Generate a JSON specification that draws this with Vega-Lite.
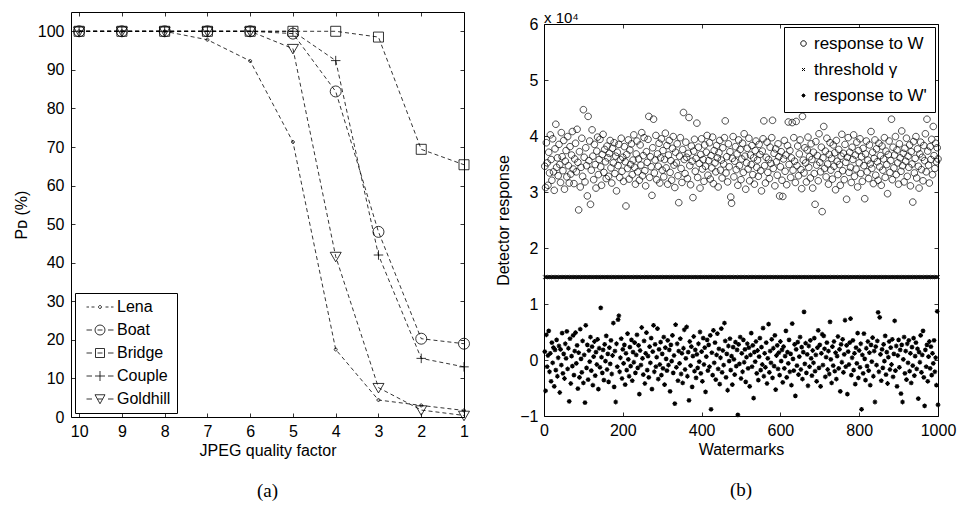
{
"$schema": "https://vega.github.io/schema/vega-lite/v6.json",
"background": "white",
"padding": {"left": 12, "top": 10, "right": 2, "bottom": 2},
"spacing": 17,
"align": "none",
"resolve": {"scale": {"shape": "independent"}, "legend": {"shape": "independent"}},
"config": {
  "font": "Liberation Sans",
  "view": {"stroke": "black", "strokeWidth": 1},
  "axis": {"grid": false, "domain": false, "ticks": true, "tickColor": "black", "tickSize": -4, "tickWidth": 0.8, "labelPadding": 10, "labelFontSize": 16, "labelColor": "black", "labelFlush": false, "labelOverlap": false, "titleFontSize": 16, "titleFontWeight": "normal", "titleColor": "black"},
  "legend": {"labelFontSize": 16, "labelColor": "black", "strokeColor": "black", "fillColor": "white"},
  "title": {"orient": "bottom", "font": "Liberation Serif", "fontSize": 19, "fontWeight": "normal", "color": "black", "offset": 24}
},
"datasets": {
"pd": [
{"q":10,"s":"Lena","v":100},{"q":9,"s":"Lena","v":100},{"q":8,"s":"Lena","v":100},{"q":7,"s":"Lena","v":97.8},{"q":6,"s":"Lena","v":92.3},{"q":5,"s":"Lena","v":71.3},{"q":4,"s":"Lena","v":17.5},{"q":3,"s":"Lena","v":4.4},{"q":2,"s":"Lena","v":3.0},{"q":1,"s":"Lena","v":1.7},
{"q":10,"s":"Boat","v":100},{"q":9,"s":"Boat","v":100},{"q":8,"s":"Boat","v":100},{"q":7,"s":"Boat","v":100},{"q":6,"s":"Boat","v":100},{"q":5,"s":"Boat","v":99.4},{"q":4,"s":"Boat","v":84.4},{"q":3,"s":"Boat","v":48},{"q":2,"s":"Boat","v":20.3},{"q":1,"s":"Boat","v":19},
{"q":10,"s":"Bridge","v":100},{"q":9,"s":"Bridge","v":100},{"q":8,"s":"Bridge","v":100},{"q":7,"s":"Bridge","v":100},{"q":6,"s":"Bridge","v":100},{"q":5,"s":"Bridge","v":100},{"q":4,"s":"Bridge","v":100},{"q":3,"s":"Bridge","v":98.5},{"q":2,"s":"Bridge","v":69.4},{"q":1,"s":"Bridge","v":65.4},
{"q":10,"s":"Couple","v":100},{"q":9,"s":"Couple","v":100},{"q":8,"s":"Couple","v":100},{"q":7,"s":"Couple","v":100},{"q":6,"s":"Couple","v":100},{"q":5,"s":"Couple","v":100},{"q":4,"s":"Couple","v":92.4},{"q":3,"s":"Couple","v":42},{"q":2,"s":"Couple","v":15.2},{"q":1,"s":"Couple","v":13},
{"q":10,"s":"Goldhill","v":100},{"q":9,"s":"Goldhill","v":100},{"q":8,"s":"Goldhill","v":100},{"q":7,"s":"Goldhill","v":100},{"q":6,"s":"Goldhill","v":100},{"q":5,"s":"Goldhill","v":95.5},{"q":4,"s":"Goldhill","v":41.6},{"q":3,"s":"Goldhill","v":7.6},{"q":2,"s":"Goldhill","v":1.8},{"q":1,"s":"Goldhill","v":0.4}
],
"wm": [
{"x":2,"w":3.46,"p":0.15},{"x":4,"w":3.08,"p":-0.55},{"x":6,"w":3.88,"p":0.45},{"x":8,"w":3.52,"p":-0.12},{"x":10,"w":3.12,"p":0.08},{"x":12,"w":3.71,"p":0.52},{"x":14,"w":3.34,"p":-0.21},{"x":16,"w":4.02,"p":0.12},{"x":18,"w":3.58,"p":-0.38},{"x":20,"w":3.21,"p":0.31},
{"x":22,"w":3.95,"p":-0.05},{"x":24,"w":3.36,"p":0.22},{"x":26,"w":3.03,"p":-0.47},{"x":28,"w":3.77,"p":0.18},{"x":30,"w":4.21,"p":-0.18},{"x":32,"w":3.44,"p":0.36},{"x":34,"w":3.61,"p":-0.29},{"x":36,"w":3.29,"p":0.04},{"x":38,"w":3.85,"p":0.25},{"x":40,"w":3.49,"p":-0.58},
{"x":42,"w":3.17,"p":0.19},{"x":44,"w":4.06,"p":-0.09},{"x":46,"w":3.63,"p":0.48},{"x":48,"w":3.38,"p":-0.24},{"x":50,"w":3.92,"p":0.11},{"x":52,"w":3.05,"p":-0.33},{"x":54,"w":3.55,"p":0.29},{"x":56,"w":3.74,"p":0.03},{"x":58,"w":3.27,"p":0.51},{"x":60,"w":3.99,"p":-0.16},
{"x":62,"w":3.47,"p":0.21},{"x":64,"w":3.16,"p":-0.74},{"x":66,"w":3.81,"p":0.38},{"x":68,"w":3.32,"p":-0.42},{"x":70,"w":3.66,"p":0.07},{"x":72,"w":4.08,"p":-0.11},{"x":74,"w":3.41,"p":0.44},{"x":76,"w":3.15,"p":-0.27},{"x":78,"w":3.59,"p":0.16},{"x":80,"w":3.87,"p":0.49},
{"x":82,"w":3.36,"p":-0.06},{"x":84,"w":4.12,"p":0.26},{"x":86,"w":3.53,"p":-0.51},{"x":88,"w":2.68,"p":0.13},{"x":90,"w":3.72,"p":-0.31},{"x":92,"w":3.09,"p":0.55},{"x":94,"w":3.44,"p":0.02},{"x":96,"w":3.96,"p":-0.22},{"x":98,"w":3.28,"p":0.34},{"x":100,"w":4.47,"p":-0.41},
{"x":102,"w":3.62,"p":0.09},{"x":104,"w":3.18,"p":-0.76},{"x":106,"w":3.79,"p":0.62},{"x":108,"w":3.47,"p":-0.14},{"x":110,"w":2.93,"p":0.27},{"x":112,"w":4.35,"p":-0.35},{"x":114,"w":3.56,"p":0.17},{"x":116,"w":3.91,"p":-0.03},{"x":118,"w":2.78,"p":0.41},{"x":120,"w":3.39,"p":-0.19},
{"x":122,"w":4.11,"p":0.24},{"x":124,"w":3.64,"p":-0.45},{"x":126,"w":3.22,"p":0.06},{"x":128,"w":3.85,"p":0.33},{"x":130,"w":3.49,"p":-0.28},{"x":132,"w":3.07,"p":0.14},{"x":134,"w":3.73,"p":-0.08},{"x":136,"w":3.98,"p":0.37},{"x":138,"w":3.31,"p":-0.52},{"x":140,"w":3.58,"p":0.21},
{"x":142,"w":3.94,"p":-0.13},{"x":144,"w":3.45,"p":0.93},{"x":146,"w":3.12,"p":0.05},{"x":148,"w":3.67,"p":-0.23},{"x":150,"w":4.03,"p":0.18},{"x":152,"w":3.35,"p":-0.36},{"x":154,"w":3.76,"p":0.28},{"x":156,"w":3.54,"p":-0.02},{"x":158,"w":3.24,"p":0.43},{"x":160,"w":3.82,"p":-0.17},
{"x":162,"w":3.61,"p":0.11},{"x":164,"w":3.28,"p":-0.39},{"x":166,"w":3.69,"p":0.22},{"x":168,"w":3.92,"p":-0.07},{"x":170,"w":3.43,"p":0.35},{"x":172,"w":3.16,"p":-0.25},{"x":174,"w":3.78,"p":0.08},{"x":176,"w":3.52,"p":0.66},{"x":178,"w":3.88,"p":-0.48},{"x":180,"w":3.33,"p":0.16},
{"x":182,"w":3.64,"p":-0.75},{"x":184,"w":3.02,"p":0.29},{"x":186,"w":3.71,"p":-0.12},{"x":188,"w":3.47,"p":0.72},{"x":190,"w":3.85,"p":0.79},{"x":192,"w":3.26,"p":-0.21},{"x":194,"w":3.58,"p":0.04},{"x":196,"w":3.96,"p":0.38},{"x":198,"w":3.37,"p":-0.33},{"x":200,"w":3.62,"p":0.19},
{"x":202,"w":3.19,"p":-0.06},{"x":204,"w":3.81,"p":0.27},{"x":206,"w":3.54,"p":-0.44},{"x":208,"w":2.75,"p":0.12},{"x":210,"w":3.67,"p":-0.18},{"x":212,"w":3.42,"p":0.47},{"x":214,"w":3.93,"p":0.01},{"x":216,"w":3.23,"p":-0.29},{"x":218,"w":3.75,"p":0.23},{"x":220,"w":3.49,"p":-0.11},
{"x":222,"w":3.86,"p":0.36},{"x":224,"w":3.31,"p":-0.37},{"x":226,"w":3.57,"p":0.14},{"x":228,"w":4.02,"p":-0.04},{"x":230,"w":3.44,"p":0.31},{"x":232,"w":3.14,"p":-0.23},{"x":234,"w":3.68,"p":0.09},{"x":236,"w":3.91,"p":0.45},{"x":238,"w":3.36,"p":-0.14},{"x":240,"w":3.59,"p":0.26},
{"x":242,"w":3.21,"p":-0.61},{"x":244,"w":3.84,"p":0.17},{"x":246,"w":3.48,"p":-0.09},{"x":248,"w":4.06,"p":0.58},{"x":250,"w":3.29,"p":0.03},{"x":252,"w":3.65,"p":-0.26},{"x":254,"w":3.97,"p":0.34},{"x":256,"w":3.38,"p":-0.42},{"x":258,"w":3.11,"p":0.12},{"x":260,"w":3.72,"p":0.49},
{"x":262,"w":3.53,"p":-0.18},{"x":264,"w":3.94,"p":0.07},{"x":266,"w":4.35,"p":-0.31},{"x":268,"w":3.26,"p":0.24},{"x":270,"w":3.63,"p":-0.05},{"x":272,"w":3.45,"p":0.39},{"x":274,"w":2.94,"p":-0.52},{"x":276,"w":3.79,"p":0.15},{"x":278,"w":4.3,"p":0.62},{"x":280,"w":3.34,"p":-0.21},
{"x":282,"w":3.57,"p":0.28},{"x":284,"w":4.01,"p":-0.12},{"x":286,"w":3.22,"p":0.05},{"x":288,"w":3.68,"p":0.56},{"x":290,"w":3.46,"p":-0.34},{"x":292,"w":3.87,"p":0.19},{"x":294,"w":3.16,"p":-0.08},{"x":296,"w":3.61,"p":0.32},{"x":298,"w":3.95,"p":-0.27},{"x":300,"w":3.39,"p":0.11},
{"x":302,"w":3.74,"p":-0.15},{"x":304,"w":3.27,"p":0.41},{"x":306,"w":3.58,"p":-0.44},{"x":308,"w":4.05,"p":0.22},{"x":310,"w":3.43,"p":0.02},{"x":312,"w":3.83,"p":-0.19},{"x":314,"w":3.14,"p":0.35},{"x":316,"w":3.66,"p":-0.09},{"x":318,"w":3.92,"p":0.18},{"x":320,"w":3.35,"p":-0.56},
{"x":322,"w":3.56,"p":0.27},{"x":324,"w":3.21,"p":-0.02},{"x":326,"w":3.78,"p":0.44},{"x":328,"w":3.99,"p":-0.23},{"x":330,"w":3.48,"p":0.08},{"x":332,"w":3.08,"p":-0.78},{"x":334,"w":3.71,"p":0.63},{"x":336,"w":3.52,"p":-0.13},{"x":338,"w":3.86,"p":0.29},{"x":340,"w":3.29,"p":-0.37},
{"x":342,"w":2.81,"p":0.16},{"x":344,"w":3.64,"p":-0.06},{"x":346,"w":3.97,"p":0.38},{"x":348,"w":3.42,"p":-0.25},{"x":350,"w":3.17,"p":0.12},{"x":352,"w":3.76,"p":-0.41},{"x":354,"w":4.42,"p":0.21},{"x":356,"w":3.58,"p":0.54},{"x":358,"w":3.33,"p":-0.17},{"x":360,"w":3.89,"p":0.03},
{"x":362,"w":3.62,"p":0.59},{"x":364,"w":3.24,"p":-0.29},{"x":366,"w":3.69,"p":0.14},{"x":368,"w":4.33,"p":-0.72},{"x":370,"w":3.47,"p":0.33},{"x":372,"w":3.13,"p":-0.1},{"x":374,"w":3.82,"p":0.24},{"x":376,"w":3.55,"p":-0.48},{"x":378,"w":2.9,"p":0.07},{"x":380,"w":3.73,"p":0.42},
{"x":382,"w":3.94,"p":-0.2},{"x":384,"w":3.37,"p":0.18},{"x":386,"w":3.6,"p":-0.32},{"x":388,"w":4.23,"p":0.1},{"x":390,"w":3.26,"p":-0.14},{"x":392,"w":3.8,"p":0.29},{"x":394,"w":3.51,"p":-0.03},{"x":396,"w":3.07,"p":0.5},{"x":398,"w":3.67,"p":-0.24},{"x":400,"w":3.95,"p":0.15},
{"x":402,"w":3.41,"p":-0.38},{"x":404,"w":3.58,"p":0.39},{"x":406,"w":3.19,"p":-0.08},{"x":408,"w":3.84,"p":0.22},{"x":410,"w":3.46,"p":-0.57},{"x":412,"w":3.71,"p":0.06},{"x":414,"w":4.01,"p":0.36},{"x":416,"w":3.3,"p":-0.19},{"x":418,"w":3.56,"p":0.27},{"x":420,"w":3.88,"p":-0.12},
{"x":422,"w":3.23,"p":0.44},{"x":424,"w":3.65,"p":-0.88},{"x":426,"w":3.43,"p":0.13},{"x":428,"w":3.98,"p":-0.27},{"x":430,"w":3.15,"p":0.53},{"x":432,"w":3.74,"p":-0.05},{"x":434,"w":3.52,"p":0.31},{"x":436,"w":3.36,"p":-0.35},{"x":438,"w":3.83,"p":0.09},{"x":440,"w":3.61,"p":0.47},
{"x":442,"w":3.09,"p":-0.16},{"x":444,"w":3.7,"p":0.2},{"x":446,"w":3.92,"p":-0.43},{"x":448,"w":3.39,"p":0.04},{"x":450,"w":3.57,"p":0.56},{"x":452,"w":3.25,"p":-0.22},{"x":454,"w":3.79,"p":0.17},{"x":456,"w":3.5,"p":-0.09},{"x":458,"w":3.97,"p":0.66},{"x":460,"w":4.27,"p":0.34},
{"x":462,"w":3.34,"p":-0.31},{"x":464,"w":3.63,"p":0.11},{"x":466,"w":3.18,"p":-0.54},{"x":468,"w":3.86,"p":0.25},{"x":470,"w":3.45,"p":-0.02},{"x":472,"w":3.72,"p":0.38},{"x":474,"w":2.91,"p":-0.18},{"x":476,"w":2.8,"p":0.07},{"x":478,"w":3.6,"p":-0.44},{"x":480,"w":3.99,"p":0.23},
{"x":482,"w":3.27,"p":0.01},{"x":484,"w":3.55,"p":-0.26},{"x":486,"w":3.81,"p":0.32},{"x":488,"w":3.4,"p":-0.11},{"x":490,"w":3.68,"p":0.18},{"x":492,"w":3.12,"p":-0.98},{"x":494,"w":3.93,"p":0.28},{"x":496,"w":3.47,"p":-0.07},{"x":498,"w":3.76,"p":0.41},{"x":500,"w":3.22,"p":-0.33},
{"x":502,"w":3.59,"p":0.12},{"x":504,"w":3.87,"p":-0.21},{"x":506,"w":3.35,"p":0.36},{"x":508,"w":4.04,"p":-0.04},{"x":510,"w":3.64,"p":0.19},{"x":512,"w":3.05,"p":-0.39},{"x":514,"w":3.52,"p":0.05},{"x":516,"w":3.78,"p":0.29},{"x":518,"w":3.41,"p":-0.15},{"x":520,"w":3.96,"p":0.22},
{"x":522,"w":3.2,"p":-0.47},{"x":524,"w":3.66,"p":0.09},{"x":526,"w":3.49,"p":0.48},{"x":528,"w":3.83,"p":-0.12},{"x":530,"w":3.31,"p":0.26},{"x":532,"w":3.61,"p":-0.68},{"x":534,"w":3.14,"p":0.14},{"x":536,"w":3.74,"p":-0.03},{"x":538,"w":3.91,"p":0.33},{"x":540,"w":3.44,"p":-0.24},
{"x":542,"w":3.57,"p":0.17},{"x":544,"w":3.28,"p":-0.36},{"x":546,"w":3.85,"p":0.06},{"x":548,"w":3.67,"p":0.39},{"x":550,"w":3.38,"p":-0.18},{"x":552,"w":3.02,"p":0.23},{"x":554,"w":3.73,"p":-0.08},{"x":556,"w":3.95,"p":0.57},{"x":558,"w":4.27,"p":-0.29},{"x":560,"w":3.47,"p":0.12},
{"x":562,"w":3.16,"p":-0.13},{"x":564,"w":3.62,"p":0.31},{"x":566,"w":3.89,"p":-0.42},{"x":568,"w":3.35,"p":0.03},{"x":570,"w":3.58,"p":0.64},{"x":572,"w":3.24,"p":-0.22},{"x":574,"w":3.8,"p":0.16},{"x":576,"w":3.51,"p":-0.05},{"x":578,"w":3.97,"p":0.37},{"x":580,"w":4.28,"p":-0.32},
{"x":582,"w":3.42,"p":0.21},{"x":584,"w":3.69,"p":-0.11},{"x":586,"w":3.11,"p":0.44},{"x":588,"w":3.77,"p":-0.53},{"x":590,"w":3.54,"p":0.08},{"x":592,"w":3.3,"p":0.26},{"x":594,"w":3.86,"p":-0.16},{"x":596,"w":3.63,"p":0.13},{"x":598,"w":2.93,"p":-0.27},{"x":600,"w":3.45,"p":0.33},
{"x":602,"w":3.72,"p":-0.02},{"x":604,"w":3.21,"p":0.18},{"x":606,"w":2.92,"p":-0.4},{"x":608,"w":3.59,"p":0.24},{"x":610,"w":3.92,"p":-0.15},{"x":612,"w":3.37,"p":0.07},{"x":614,"w":3.66,"p":0.52},{"x":616,"w":3.13,"p":-0.31},{"x":618,"w":3.83,"p":0.14},{"x":620,"w":4.25,"p":-0.06},
{"x":622,"w":3.49,"p":0.36},{"x":624,"w":3.74,"p":-0.21},{"x":626,"w":3.26,"p":0.11},{"x":628,"w":3.61,"p":-0.45},{"x":630,"w":4.24,"p":0.65},{"x":632,"w":3.39,"p":0.02},{"x":634,"w":3.97,"p":-0.19},{"x":636,"w":3.55,"p":0.28},{"x":638,"w":3.17,"p":-0.64},{"x":640,"w":4.26,"p":0.19},
{"x":642,"w":3.47,"p":-0.1},{"x":644,"w":3.82,"p":0.32},{"x":646,"w":3.29,"p":-0.26},{"x":648,"w":3.68,"p":0.06},{"x":650,"w":3.93,"p":0.41},{"x":652,"w":3.4,"p":-0.17},{"x":654,"w":3.06,"p":0.23},{"x":656,"w":4.35,"p":-0.34},{"x":658,"w":3.57,"p":0.14},{"x":660,"w":3.34,"p":0.86},
{"x":662,"w":3.79,"p":-0.07},{"x":664,"w":3.52,"p":0.3},{"x":666,"w":3.18,"p":-0.23},{"x":668,"w":3.75,"p":0.1},{"x":670,"w":3.98,"p":-0.46},{"x":672,"w":3.44,"p":0.25},{"x":674,"w":3.63,"p":-0.12},{"x":676,"w":3.25,"p":0.35},{"x":678,"w":3.86,"p":0.03},{"x":680,"w":3.58,"p":-0.28},
{"x":682,"w":3.07,"p":0.17},{"x":684,"w":3.71,"p":-0.05},{"x":686,"w":3.33,"p":0.39},{"x":688,"w":2.78,"p":-0.2},{"x":690,"w":3.9,"p":0.09},{"x":692,"w":3.48,"p":-0.38},{"x":694,"w":3.65,"p":0.22},{"x":696,"w":3.2,"p":0.53},{"x":698,"w":4.04,"p":-0.14},{"x":700,"w":3.53,"p":0.27},
{"x":702,"w":3.36,"p":-0.47},{"x":704,"w":3.8,"p":0.12},{"x":706,"w":2.65,"p":0.46},{"x":708,"w":3.61,"p":-0.09},{"x":710,"w":4.17,"p":0.43},{"x":712,"w":3.42,"p":0.2},{"x":714,"w":3.73,"p":-0.3},{"x":716,"w":3.27,"p":0.05},{"x":718,"w":3.96,"p":0.31},{"x":720,"w":3.5,"p":-0.17},
{"x":722,"w":3.14,"p":0.16},{"x":724,"w":3.67,"p":-0.25},{"x":726,"w":3.88,"p":0.68},{"x":728,"w":3.39,"p":0.01},{"x":730,"w":3.6,"p":-0.41},{"x":732,"w":3.23,"p":0.24},{"x":734,"w":3.84,"p":-0.1},{"x":736,"w":3.46,"p":0.33},{"x":738,"w":3.7,"p":-0.2},{"x":740,"w":3.04,"p":0.13},
{"x":742,"w":3.92,"p":-0.34},{"x":744,"w":3.55,"p":0.07},{"x":746,"w":3.31,"p":0.42},{"x":748,"w":3.76,"p":-0.15},{"x":750,"w":3.49,"p":0.19},{"x":752,"w":3.12,"p":-0.56},{"x":754,"w":3.64,"p":0.28},{"x":756,"w":4.03,"p":-0.04},{"x":758,"w":3.38,"p":0.37},{"x":760,"w":3.69,"p":-0.22},
{"x":762,"w":3.22,"p":0.1},{"x":764,"w":3.85,"p":0.71},{"x":766,"w":3.53,"p":-0.12},{"x":768,"w":2.87,"p":0.26},{"x":770,"w":3.62,"p":-0.61},{"x":772,"w":3.97,"p":0.15},{"x":774,"w":3.35,"p":-0.08},{"x":776,"w":3.71,"p":0.31},{"x":778,"w":3.44,"p":0.74},{"x":780,"w":3.17,"p":-0.27},
{"x":782,"w":3.8,"p":0.04},{"x":784,"w":3.58,"p":0.35},{"x":786,"w":4.02,"p":-0.18},{"x":788,"w":3.28,"p":0.12},{"x":790,"w":3.66,"p":-0.43},{"x":792,"w":3.41,"p":0.22},{"x":794,"w":3.89,"p":-0.06},{"x":796,"w":3.09,"p":0.48},{"x":798,"w":3.74,"p":-0.32},{"x":800,"w":3.52,"p":0.17},
{"x":802,"w":3.95,"p":-0.13},{"x":804,"w":3.33,"p":0.29},{"x":806,"w":3.63,"p":-0.88},{"x":808,"w":3.19,"p":0.09},{"x":810,"w":3.78,"p":-0.24},{"x":812,"w":3.47,"p":0.47},{"x":814,"w":2.88,"p":0.02},{"x":816,"w":3.68,"p":-0.36},{"x":818,"w":3.91,"p":0.21},{"x":820,"w":3.36,"p":-0.11},
{"x":822,"w":3.57,"p":0.33},{"x":824,"w":3.24,"p":-0.19},{"x":826,"w":3.84,"p":0.13},{"x":828,"w":3.5,"p":-0.45},{"x":830,"w":4.08,"p":0.27},{"x":832,"w":3.42,"p":-0.03},{"x":834,"w":3.71,"p":0.4},{"x":836,"w":3.15,"p":-0.29},{"x":838,"w":3.6,"p":0.16},{"x":840,"w":3.93,"p":-0.75},
{"x":842,"w":3.3,"p":0.24},{"x":844,"w":3.77,"p":-0.09},{"x":846,"w":3.54,"p":0.34},{"x":848,"w":3.21,"p":0.85},{"x":850,"w":3.87,"p":-0.21},{"x":852,"w":3.45,"p":0.76},{"x":854,"w":3.65,"p":0.1},{"x":856,"w":3.12,"p":-0.37},{"x":858,"w":3.82,"p":0.19},{"x":860,"w":3.39,"p":-0.14},
{"x":862,"w":3.59,"p":0.28},{"x":864,"w":3.97,"p":-0.02},{"x":866,"w":3.26,"p":0.43},{"x":868,"w":3.73,"p":-0.26},{"x":870,"w":3.49,"p":0.14},{"x":872,"w":2.97,"p":-0.42},{"x":874,"w":3.67,"p":0.05},{"x":876,"w":3.91,"p":0.33},{"x":878,"w":3.35,"p":-0.17},{"x":880,"w":3.56,"p":0.22},
{"x":882,"w":4.3,"p":-0.08},{"x":884,"w":3.22,"p":0.37},{"x":886,"w":3.8,"p":-0.3},{"x":888,"w":3.43,"p":0.11},{"x":890,"w":3.66,"p":0.7},{"x":892,"w":3.99,"p":-0.19},{"x":894,"w":3.31,"p":0.25},{"x":896,"w":3.75,"p":-0.47},{"x":898,"w":3.52,"p":0.08},{"x":900,"w":3.14,"p":0.36},
{"x":902,"w":3.86,"p":-0.13},{"x":904,"w":3.61,"p":0.18},{"x":906,"w":3.37,"p":-0.6},{"x":908,"w":4.09,"p":0.27},{"x":910,"w":3.47,"p":-0.75},{"x":912,"w":3.69,"p":0.01},{"x":914,"w":3.18,"p":0.41},{"x":916,"w":3.78,"p":-0.24},{"x":918,"w":3.55,"p":0.16},{"x":920,"w":3.96,"p":-0.35},
{"x":922,"w":3.28,"p":0.29},{"x":924,"w":3.64,"p":-0.05},{"x":926,"w":3.44,"p":0.35},{"x":928,"w":3.84,"p":-0.2},{"x":930,"w":3.11,"p":0.12},{"x":932,"w":3.72,"p":-0.41},{"x":934,"w":3.5,"p":0.23},{"x":936,"w":2.82,"p":-0.1},{"x":938,"w":3.9,"p":0.39},{"x":940,"w":3.34,"p":-0.28},
{"x":942,"w":3.6,"p":0.07},{"x":944,"w":3.99,"p":0.31},{"x":946,"w":3.25,"p":-0.16},{"x":948,"w":3.77,"p":0.2},{"x":950,"w":3.46,"p":-0.69},{"x":952,"w":3.07,"p":0.14},{"x":954,"w":3.68,"p":-0.04},{"x":956,"w":3.89,"p":0.44},{"x":958,"w":3.4,"p":-0.22},{"x":960,"w":3.62,"p":0.09},
{"x":962,"w":3.2,"p":0.52},{"x":964,"w":3.83,"p":-0.31},{"x":966,"w":3.56,"p":-0.82},{"x":968,"w":4.04,"p":0.18},{"x":970,"w":3.36,"p":-0.12},{"x":972,"w":4.3,"p":0.27},{"x":974,"w":3.73,"p":-0.38},{"x":976,"w":3.48,"p":0.06},{"x":978,"w":3.16,"p":0.33},{"x":980,"w":3.81,"p":-0.15},
{"x":982,"w":3.58,"p":0.24},{"x":984,"w":3.94,"p":-0.27},{"x":986,"w":3.31,"p":0.12},{"x":988,"w":4.17,"p":-0.06},{"x":990,"w":3.65,"p":0.35},{"x":992,"w":3.42,"p":-0.21},{"x":994,"w":3.87,"p":0.04},{"x":996,"w":3.54,"p":-0.45},{"x":998,"w":3.79,"p":0.87},{"x":1000,"w":3.59,"p":-0.8}
],
"blank": [{"k": 0}]
},
"hconcat": [
{
  "width": 393, "height": 405,
  "title": {"text": "(a)"},
  "data": {"name": "pd"},
  "resolve": {"axis": {"x": "independent", "y": "independent"}, "scale": {"shape": "independent"}},
  "layer": [
    {"mark": {"type": "line", "color": "black", "strokeWidth": 0.8, "strokeDash": [4, 3]},
     "encoding": {
       "x": {"field": "q", "type": "quantitative", "scale": {"domain": [1, 10.19], "reverse": true, "nice": false, "zero": false}, "axis": {"values": [1,2,3,4,5,6,7,8,9,10], "format": "d", "title": "JPEG quality factor", "titlePadding": 3}},
       "y": {"field": "v", "type": "quantitative", "scale": {"domain": [0, 105], "nice": false}, "axis": {"values": [0,10,20,30,40,50,60,70,80,90,100], "title": "Pᴅ (%)", "titlePadding": 8, "labelPadding": 11}},
       "detail": {"field": "s"}
     }},
    {"mark": {"type": "point", "filled": false, "color": "black", "strokeWidth": 0.8, "size": 100, "opacity": 1},
     "encoding": {
       "x": {"field": "q", "type": "quantitative", "axis": {"orient": "top", "labels": false, "title": null, "values": [1,2,3,4,5,6,7,8,9,10]}},
       "y": {"field": "v", "type": "quantitative", "axis": {"orient": "right", "labels": false, "title": null, "values": [0,10,20,30,40,50,60,70,80,90,100]}},
       "shape": {"field": "s", "type": "nominal", "legend": null,
         "scale": {"domain": ["Lena","Boat","Bridge","Couple","Goldhill"],
           "range": [
             "M0.3,0A0.3,0.3 0 1,1 -0.3,0A0.3,0.3 0 1,1 0.3,0Z",
             "M1.1,0A1.1,1.1 0 1,1 -1.1,0A1.1,1.1 0 1,1 1.1,0Z",
             "M-1,-1H1V1H-1Z",
             "M-0.95,0H0.95M0,-0.95V0.95",
             "M-1.1,-0.85L1.1,-0.85L0,1.05Z"
           ]}}
     }},
    {"mark": {"type": "point", "filled": false, "color": "black", "size": 100, "opacity": 0},
     "encoding": {
       "x": {"field": "q", "type": "quantitative", "axis": null},
       "y": {"field": "v", "type": "quantitative", "axis": null},
       "shape": {"field": "s", "type": "nominal",
         "scale": {"domain": ["Lena","Boat","Bridge","Couple","Goldhill"],
           "range": [
             "M-2.7,0H-2.2M-1.7,0H-1.1M1.1,0H1.7M2.2,0H2.7M0.3,0A0.3,0.3 0 1,1 -0.3,0A0.3,0.3 0 1,1 0.3,0Z",
             "M-2.7,0H-1.6M-0.5,0H0.5M1.6,0H2.7M1,0A1,1 0 1,1 -1,0A1,1 0 1,1 1,0Z",
             "M-2.7,0H-1.6M-0.5,0H0.5M1.6,0H2.7M-0.9,-0.9H0.9V0.9H-0.9Z",
             "M-2.7,0H-1.6M-1,0H1M1.6,0H2.7M0,-1V1",
             "M-2.7,0H-1.6M-0.5,0H0.5M1.6,0H2.7M-1,-0.85L1,-0.85L0,0.95Z"
           ]},
         "legend": {"title": null, "orient": "bottom-left", "offset": 4, "padding": 6, "symbolSize": 100, "symbolOpacity": 1, "symbolStrokeColor": "black", "symbolFillColor": "transparent", "symbolStrokeWidth": 0.8, "symbolOffset": 11, "labelOffset": 9, "rowPadding": 7, "labelFontSize": 16}}
     }}
  ]
},
{
 "resolve": {"scale": {"shape": "independent"}, "legend": {"shape": "independent"}},
 "spacing": -3,
 "vconcat": [
 {
  "width": 300, "height": 1,
  "view": {"stroke": null},
  "data": {"name": "blank"},
  "mark": {"type": "point", "opacity": 0, "size": 0},
  "encoding": {}
 },
 {
  "width": 394, "height": 392,
  "title": {"text": "(b)"},
  "data": {"name": "wm"},
  "resolve": {"axis": {"x": "independent", "y": "independent"}},
  "layer": [
    {"mark": {"type": "point", "filled": false, "color": "black", "strokeWidth": 0.7, "size": 36, "opacity": 1},
     "encoding": {
       "x": {"field": "x", "type": "quantitative", "scale": {"domain": [0, 1000], "nice": false}, "axis": {"values": [0,200,400,600,800,1000], "format": "d", "title": "Watermarks", "titlePadding": 3}},
       "y": {"field": "w", "type": "quantitative", "scale": {"domain": [-1, 6], "nice": false, "zero": false}, "axis": {"values": [-1,0,1,2,3,4,5,6], "title": "Detector response", "titlePadding": 8}},
       "shape": {"datum": "response to W",
         "scale": {"domain": ["response to W", "threshold γ", "response to W'"],
           "range": [
             "M1.1,0A1.1,1.1 0 1,1 -1.1,0A1.1,1.1 0 1,1 1.1,0Z",
             "M-0.6,-0.6L0.6,0.6M-0.6,0.6L0.6,-0.6",
             "M-0.8,0H0.8M0,-0.8V0.8M-0.55,-0.55L0.55,0.55M-0.55,0.55L0.55,-0.55"
           ]},
         "legend": {"title": null, "orient": "top-right", "offset": 3, "padding": 8, "symbolSize": 25, "symbolOpacity": 1, "symbolStrokeColor": "black", "symbolFillColor": "transparent", "symbolStrokeWidth": 1, "symbolOffset": 3, "labelOffset": 2, "rowPadding": 8, "labelFontSize": 17}}
     }},
    {"mark": {"type": "point", "filled": false, "color": "black", "strokeWidth": 0.8, "size": 36, "opacity": 1},
     "encoding": {
       "x": {"field": "x", "type": "quantitative", "axis": null},
       "y": {"datum": 1.48, "type": "quantitative", "axis": null},
       "shape": {"datum": "threshold γ"}
     }},
    {"mark": {"type": "point", "filled": false, "color": "black", "strokeWidth": 1.2, "size": 36, "opacity": 1},
     "encoding": {
       "x": {"field": "x", "type": "quantitative", "axis": {"orient": "top", "labels": false, "title": null, "values": [0,200,400,600,800,1000]}},
       "y": {"field": "p", "type": "quantitative", "axis": {"orient": "right", "labels": false, "title": null, "values": [-1,0,1,2,3,4,5,6]}},
       "shape": {"datum": "response to W'"}
     }},
    {"data": {"values": [{"t": "x 10⁴"}]},
     "mark": {"type": "text", "align": "left", "baseline": "bottom", "fontSize": 15, "dy": 2, "color": "black"},
     "encoding": {
       "x": {"datum": 0, "type": "quantitative", "axis": null},
       "y": {"datum": 6, "type": "quantitative", "axis": null},
       "text": {"field": "t"}
     }}
  ]
 }
 ]
}
]
}
